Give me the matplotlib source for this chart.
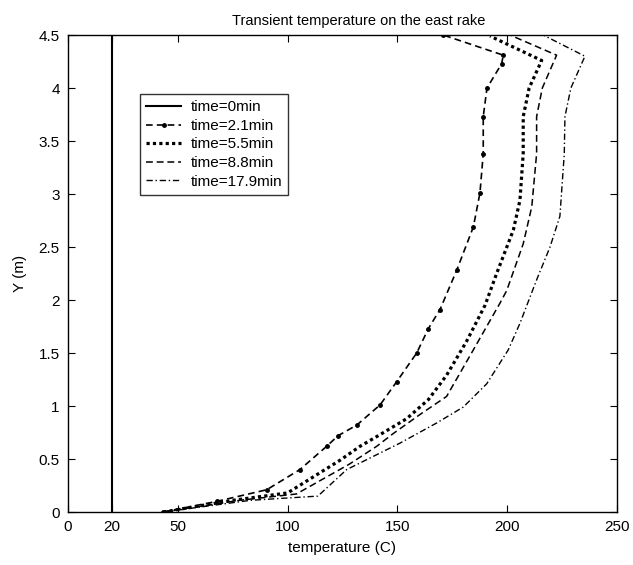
import matplotlib
matplotlib.use("Agg")
import matplotlib.pyplot as plt

plt.rcParams['font.family'] = ['Liberation Sans', 'DejaVu Sans']

# rake readings, temperature (C) vs height Y (m)
y_0 = [0, 4.5]
t_0 = [20, 20]

y_21 = [0, 0.10, 0.21, 0.40, 0.62, 0.72, 0.82, 1.01, 1.23, 1.50, 1.73, 1.91,
        2.28, 2.69, 3.01, 3.38, 3.73, 4.00, 4.23, 4.31, 4.50]
t_21 = [43.4, 67.7, 90.5, 105.6, 117.8, 123.0, 131.5, 142.1, 149.7, 158.8, 164.1, 169.4,
        177.0, 184.6, 187.6, 189.1, 189.1, 190.8, 197.5, 198.2, 170.9]

y_55 = [0, 0.11, 0.18, 0.49, 0.62, 0.73, 0.88, 1.06, 1.29, 1.61, 1.95, 2.25,
        2.66, 2.94, 3.38, 3.73, 4.00, 4.26, 4.49]
t_55 = [43.4, 75.0, 100.0, 124.0, 133.0, 142.1, 154.2, 164.1, 172.4, 181.5, 189.9, 195.2,
        202.8, 205.8, 207.3, 207.3, 210.0, 215.7, 192.2]

y_88 = [0, 0.11, 0.17, 0.45, 0.62, 0.74, 0.92, 1.09, 1.53, 1.97, 2.09, 2.53,
        2.88, 3.38, 3.73, 4.00, 4.31, 4.50]
t_88 = [43.4, 78.0, 104.0, 128.0, 140.6, 148.1, 160.3, 172.4, 184.6, 196.7, 199.8, 207.3,
        211.2, 213.4, 213.4, 216.0, 222.5, 201.3]

y_179 = [0, 0.11, 0.15, 0.40, 0.65, 0.84, 0.99, 1.21, 1.53, 1.78, 2.19, 2.50,
         2.79, 3.38, 3.73, 4.00, 4.30, 4.50]
t_179 = [43.4, 83.0, 113.8, 126.9, 151.2, 167.9, 180.0, 190.7, 200.5, 205.8, 213.4, 219.5,
         224.0, 226.0, 226.3, 229.0, 235.4, 216.4]

labels = ['time=0min', 'time=2.1min', 'time=5.5min', 'time=8.8min', 'time=17.9min']
xticks = [0, 20, 50, 100, 150, 200, 250]
yticks = [0, 0.5, 1, 1.5, 2, 2.5, 3, 3.5, 4, 4.5]

fig = plt.figure(figsize=(6.33, 5.65), dpi=100)
ax = fig.add_axes([0.1074, 0.0938, 0.8673, 0.8442])

ax.plot(t_0, y_0, color='k', lw=1.5, label=labels[0])
ax.plot(t_21, y_21, color='k', lw=1.2, linestyle=(0, (4, 2.5)), marker='.', ms=5, label=labels[1])
ax.plot(t_55, y_55, color='k', lw=2.3, linestyle=(0, (1, 1)), label=labels[2])
ax.plot(t_88, y_88, color='k', lw=1.1, linestyle=(0, (4.5, 2.5)), label=labels[3])
ax.plot(t_179, y_179, color='k', lw=1.0, linestyle=(0, (4.5, 2, 1, 2)), label=labels[4])

ax.set_xlim(0, 250)
ax.set_ylim(0, 4.5)
ax.set_xticks(xticks)
ax.set_yticks(yticks)
ax.set_xticklabels([str(v) for v in xticks])
ax.set_yticklabels(['0', '0.5', '1', '1.5', '2', '2.5', '3', '3.5', '4', '4.5'])
ax.tick_params(direction='in', top=True, right=True, length=5, width=0.8, labelsize=11, pad=6)
for s in ax.spines.values():
    s.set_linewidth(1.0)

ax.set_xlabel('temperature (C)', fontsize=11, labelpad=5)
ax.set_ylabel('Y (m)', fontsize=11, labelpad=8)
ax.set_title('Transient temperature on the east rake', fontsize=10.5, x=0.53, pad=7)

leg = ax.legend(loc='upper left', bbox_to_anchor=(0.131, 0.876), fontsize=11, frameon=True,
                fancybox=False, edgecolor='k', handlelength=2.3, handletextpad=0.6,
                labelspacing=0.3, borderpad=0.4, borderaxespad=0)
leg.get_frame().set_linewidth(1.0)

fig.savefig('out.png', dpi=100)
